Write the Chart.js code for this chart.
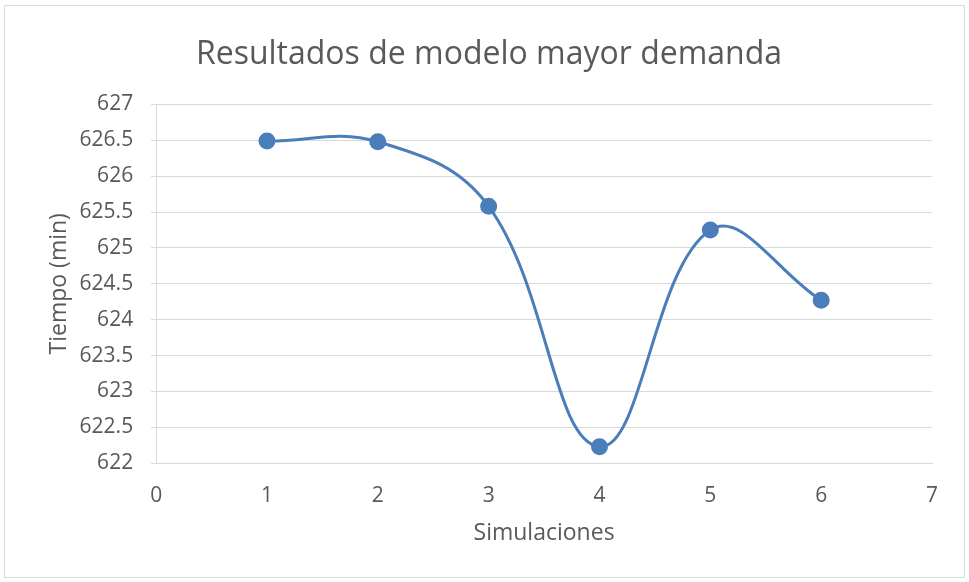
<!DOCTYPE html>
<html>
<head>
<meta charset="utf-8">
<script src="https://cdn.jsdelivr.net/npm/chart.js@4/dist/chart.umd.min.js"></script>
<style>
    html, body { margin: 0; padding: 0; background: #fff; }
    #frame {
        position: absolute;
        left: 4px; top: 5px;
        width: 961px; height: 573px;
        border: 1px solid #d9d9d9;
        box-sizing: border-box;
    }
    #wrap { position: absolute; left: 0; top: 0; width: 969px; height: 582px; }
</style>
</head>
<body>
<div id="frame"></div>
<div id="wrap"><canvas id="chart" width="969" height="582"></canvas></div>
<script>
// Simulation runs and resulting times (minutes)
const simulaciones = [1, 2, 3, 4, 5, 6];
const tiempos = [626.49, 626.48, 625.58, 622.23, 625.25, 624.27];

const yTicks = [622, 622.5, 623, 623.5, 624, 624.5, 625, 625.5, 626, 626.5, 627];
const xTicks = [0, 1, 2, 3, 4, 5, 6, 7];

const lineColor = '#4a7ebb';
const gridColor = '#d9d9d9';
const textColor = '#595959';
const fontFamily = "'Open Sans', 'Liberation Sans', sans-serif";

Chart.defaults.font.family = fontFamily;
Chart.defaults.color = textColor;

const ctx = document.getElementById('chart');
new Chart(ctx, {
    type: 'scatter',
    data: {
        datasets: [{
            data: simulaciones.map((x, i) => ({ x: x, y: tiempos[i] })),
            showLine: true,
            borderColor: lineColor,
            backgroundColor: lineColor,
            borderWidth: 3,
            pointRadius: 7,
            pointHoverRadius: 7,
            tension: 0.4
        }]
    },
    options: {
        responsive: false,
        animation: false,
        layout: { padding: { left: 46, right: 37, top: 10, bottom: 35 } },
        plugins: {
            legend: { display: false },
            tooltip: { enabled: false },
            title: {
                display: true,
                text: 'Resultados de modelo mayor demanda',
                color: textColor,
                font: { size: 32, weight: 'normal' },
                padding: { top: 26, bottom: 30 }
            }
        },
        scales: {
            x: {
                type: 'linear',
                min: 0,
                max: 7,
                afterBuildTicks: axis => { axis.ticks = xTicks.map(v => ({ value: v })); },
                grid: { display: false, drawTicks: false },
                border: { display: true, color: gridColor, width: 1 },
                ticks: { font: { size: 21 }, padding: 20, callback: v => String(v) },
                title: {
                    display: true,
                    text: 'Simulaciones',
                    font: { size: 23 },
                    // tick padding is counted on both sides, pull the title back up
                    padding: { top: -9, bottom: 0 }
                }
            },
            y: {
                min: 622,
                max: 627,
                afterBuildTicks: axis => { axis.ticks = yTicks.map(v => ({ value: v })); },
                grid: { color: gridColor, lineWidth: 1, tickLength: 5 },
                border: { display: true, color: gridColor, width: 1 },
                ticks: { font: { size: 21 }, padding: 18, callback: v => String(v) },
                title: {
                    display: true,
                    text: 'Tiempo (min)',
                    font: { size: 23 },
                    padding: { top: 0, bottom: -12 }
                }
            }
        }
    }
});
</script>
</body>
</html>
